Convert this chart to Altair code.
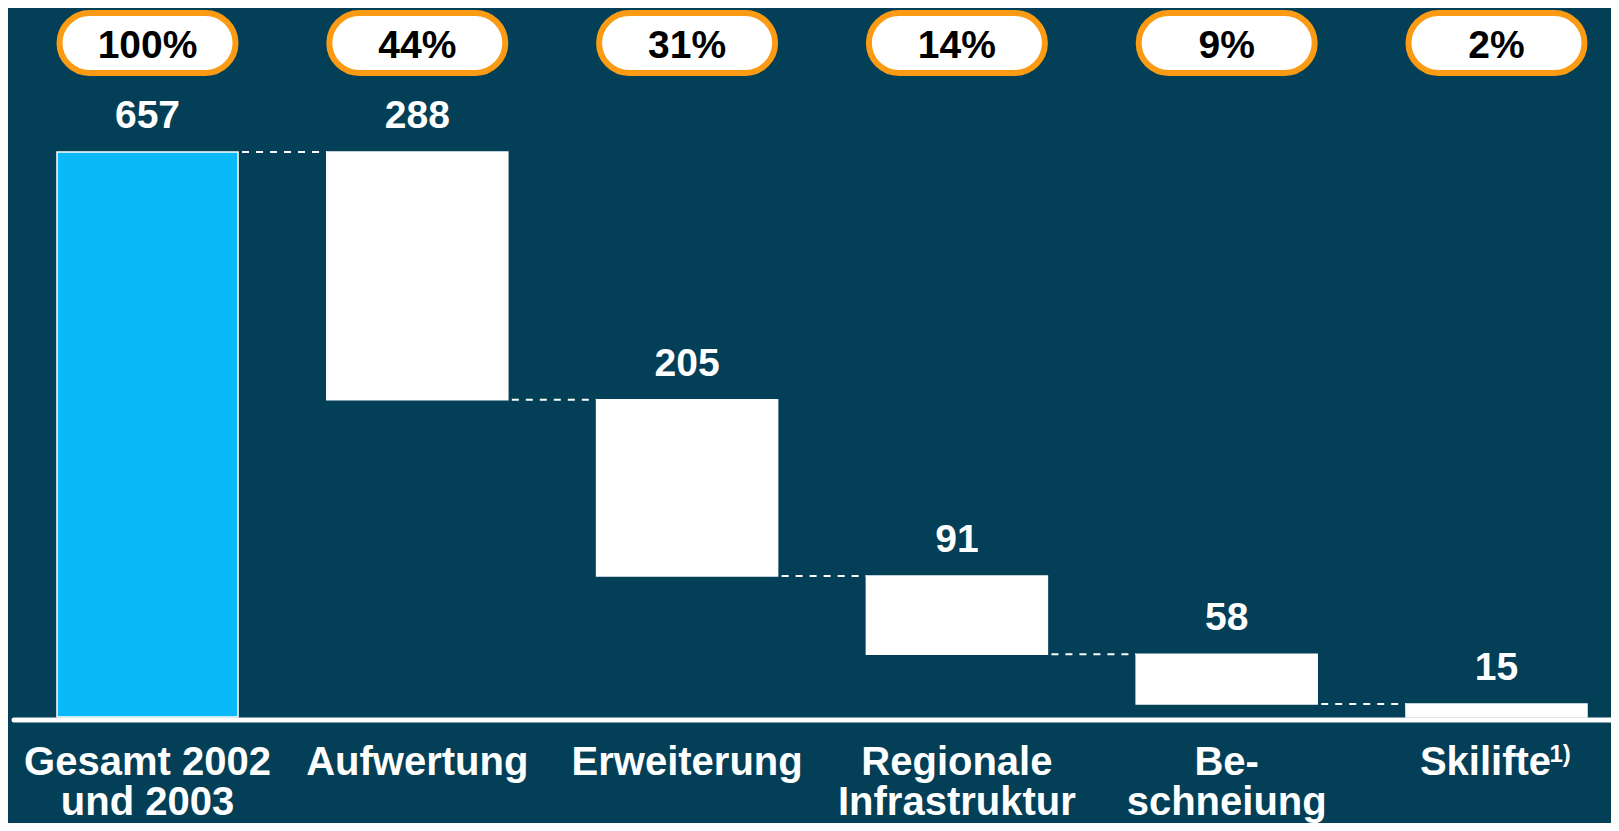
import altair as alt
import pandas as pd

# ---- data ----
categories = ["Gesamt 2002\nund 2003", "Aufwertung", "Erweiterung",
              "Regionale\nInfrastruktur", "Be-\nschneiung", "Skilifte"]
values = [657, 288, 205, 91, 58, 15]
shares = ["100%", "44%", "31%", "14%", "9%", "2%"]
kinds = ["total", "part", "part", "part", "part", "part"]
footnote_category = ["Skilifte"]
footnote_mark = ["1)"]

# ---- waterfall table ----
rows = []
remaining = values[0]
for c, v, s, k in zip(categories, values, shares, kinds):
    if k == "total":
        lo, hi = 0, v
    else:
        hi = remaining
        lo = remaining - v
        remaining = lo
    rows.append({"cat": c, "value": v, "share": s, "kind": k, "lo": lo, "hi": hi, "zero": 0})
df = pd.DataFrame(rows)

conn = pd.DataFrame([
    {"cat": df.cat[i], "next": df.cat[i + 1], "level": df.hi[i + 1]}
    for i in range(len(df) - 1)
])
foot = pd.DataFrame({"cat": footnote_category, "mark": footnote_mark, "zero": [0]})
base = pd.DataFrame({"v": [0]})

BG = "#033f57"
BLUE = "#0ab9fa"
ORANGE = "#fb9a13"
FONT = "Liberation Sans"

xs = alt.Scale(domain=categories, range=[49, 1579], paddingInner=0.329, paddingOuter=0)
ys = alt.Scale(domain=[0, 657], range=[709, 144], nice=False, zero=False)
X = alt.X("cat:N", scale=xs, axis=None, sort=categories)

connectors = alt.Chart(conn).mark_rule(
    color="white", strokeWidth=2, strokeDash=[7, 7], xOffset=4
).encode(
    x=alt.X("cat:N", scale=xs, axis=None, sort=categories, bandPosition=1),
    x2=alt.X2("next:N", bandPosition=0),
    y=alt.Y("level:Q", scale=ys, axis=None),
)

bars = alt.Chart(df).mark_bar(stroke="white", strokeWidth=1.5).encode(
    x=X,
    y=alt.Y("lo:Q", scale=ys, axis=None),
    y2="hi:Q",
    color=alt.Color("kind:N", scale=alt.Scale(domain=["total", "part"], range=[BLUE, "white"]), legend=None),
)

baseline = alt.Chart(base).mark_rule(color="white", strokeWidth=5, strokeCap="round", yOffset=3).encode(
    y=alt.Y("v:Q", scale=ys, axis=None), x=alt.value(6), x2=alt.value(1603)
)

value_labels = alt.Chart(df).mark_text(
    font=FONT, fontWeight="bold", fontSize=39, color="white", baseline="alphabetic", dy=-24
).encode(x=X, y=alt.Y("hi:Q", scale=ys, axis=None), text="value:Q")

pills = alt.Chart(df).mark_bar(
    width=176, cornerRadius=30, fill="white", stroke=ORANGE, strokeWidth=6
).encode(x=X, y=alt.value(5), y2=alt.value(65))

pct = alt.Chart(df).mark_text(
    font=FONT, fontWeight="bold", fontSize=39, color="black", baseline="alphabetic"
).encode(x=X, y=alt.value(50), text="share:N")

cat_labels = alt.Chart(df).transform_filter(
    ~alt.FieldOneOfPredicate(field="cat", oneOf=footnote_category)
).mark_text(
    font=FONT, fontWeight="bold", fontSize=40, color="white", baseline="alphabetic",
    lineBreak="\n", lineHeight=40, dy=58
).encode(x=X, y=alt.Y("zero:Q", scale=ys, axis=None), text="cat:N")

ski_label = alt.Chart(df).transform_filter(
    alt.FieldOneOfPredicate(field="cat", oneOf=footnote_category)
).mark_text(
    font=FONT, fontWeight="bold", fontSize=40, color="white", baseline="alphabetic",
    dy=58, dx=-11
).encode(x=X, y=alt.Y("zero:Q", scale=ys, axis=None), text="cat:N")

foot_label = alt.Chart(foot).mark_text(
    font=FONT, fontWeight="bold", fontSize=24, color="white", baseline="alphabetic",
    align="left", dy=45, dx=53
).encode(x=X, y=alt.Y("zero:Q", scale=ys, axis=None), text="mark:N")

chart = alt.layer(
    connectors, bars, baseline, value_labels, pills, pct, cat_labels, ski_label, foot_label
).properties(
    width=1603, height=815, background=BG, padding=0,
    autosize=alt.AutoSizeParams(type="none")
).configure_view(stroke=None)

chart.save("out.html", embed_options={"renderer": "svg", "actions": False})
